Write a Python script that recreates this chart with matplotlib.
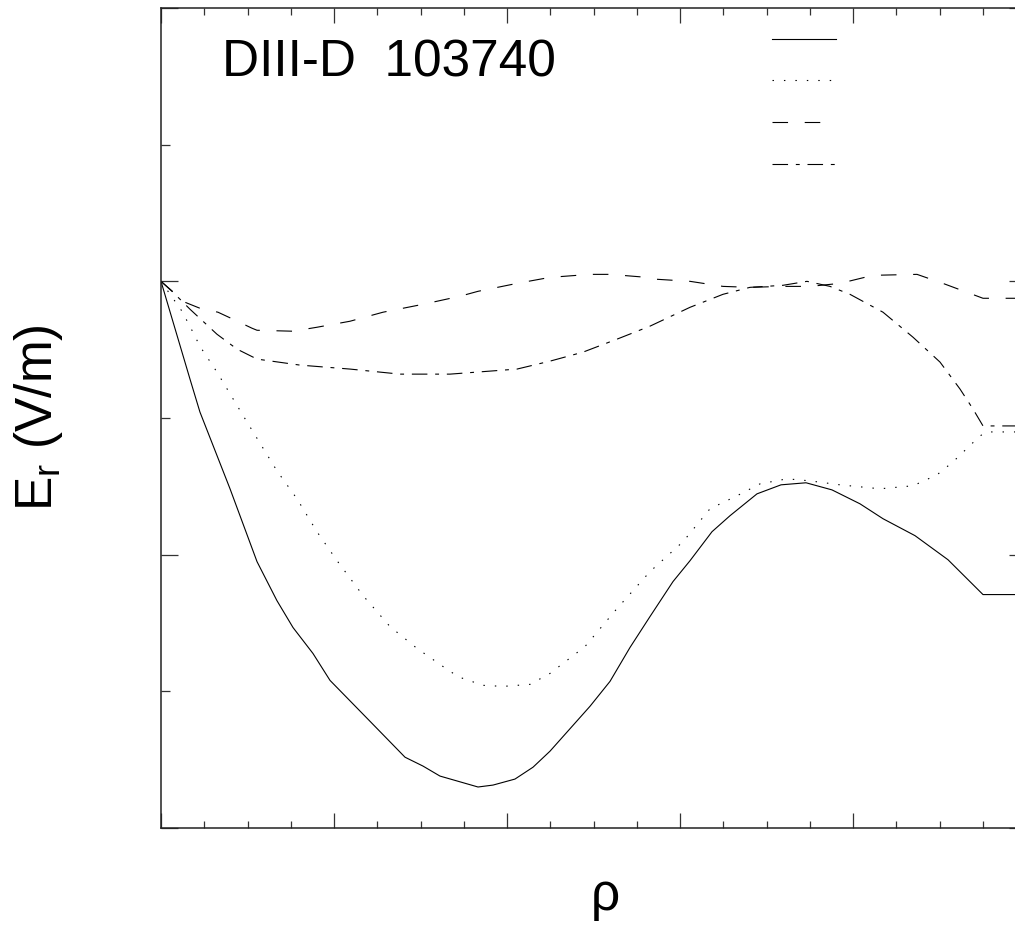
import numpy as np
import matplotlib
matplotlib.use('Agg')
import matplotlib.pyplot as plt
from matplotlib.ticker import MultipleLocator

plt.rcParams['font.family'] = ['Liberation Sans', 'DejaVu Sans']
plt.rcParams['mathtext.default'] = 'regular'

# Er profiles, DIII-D shot 103740
rho_a = [0, 0.0335, 0.045, 0.0798, 0.111, 0.134, 0.1526, 0.1757, 0.1954, 0.2416,
         0.2821, 0.3029, 0.3225, 0.3665, 0.3838, 0.4092, 0.4301, 0.4497, 0.496, 0.5191,
         0.5422, 0.5653, 0.5919, 0.6116, 0.637, 0.6578, 0.689, 0.7168, 0.7457, 0.7757,
         0.8081, 0.8347, 0.8717, 0.9098, 0.9503, 1.0]
er_a = [0, -7.15, -9.56, -15.18, -20.51, -23.36, -25.33, -27.23, -29.2, -32.19,
        -34.82, -35.47, -36.2, -37.0, -36.86, -36.42, -35.55, -34.38, -31.09, -29.27,
        -26.79, -24.53, -21.97, -20.44, -18.32, -17.15, -15.55, -14.89, -14.74, -15.26,
        -16.28, -17.37, -18.61, -20.37, -22.92, -22.92]

rho_b = [0, 0.0162, 0.0243, 0.037, 0.045, 0.0647, 0.0855, 0.0994, 0.1341, 0.1572,
         0.1803, 0.2035, 0.2335, 0.2647, 0.296, 0.3341, 0.3457, 0.3723, 0.3954, 0.4266,
         0.4497, 0.4902, 0.5272, 0.5653, 0.6035, 0.6347, 0.6659, 0.6925, 0.7237, 0.7503,
         0.785, 0.8312, 0.8694, 0.8971, 0.9156, 0.9468, 0.9549, 1.0]
er_b = [0, -1.46, -2.19, -3.73, -4.75, -6.64, -8.83, -10.29, -13.87, -15.91,
        -18.32, -20.44, -22.99, -25.26, -26.86, -28.54, -28.98, -29.56, -29.64, -29.49,
        -28.69, -26.72, -23.94, -21.24, -19.05, -16.64, -15.69, -14.82, -14.45, -14.6,
        -14.89, -15.18, -14.96, -14.16, -13.21, -11.31, -11.02, -11.02]

rho_c = [0, 0.0277, 0.045, 0.0659, 0.0832, 0.1052, 0.111, 0.1526, 0.1803, 0.2185,
         0.2566, 0.3029, 0.3457, 0.3665, 0.4116, 0.4497, 0.496, 0.5191, 0.5618, 0.5734,
         0.6116, 0.6497, 0.6809, 0.7191, 0.7503, 0.785, 0.8231, 0.874, 0.904, 0.9503, 1.0]
er_c = [0, -1.53, -1.97, -2.26, -2.77, -3.43, -3.58, -3.65, -3.36, -2.92,
        -2.26, -1.68, -1.09, -0.73, -0.15, 0.29, 0.51, 0.51, 0.29, 0.15,
        0, -0.37, -0.44, -0.37, -0.37, -0.15, 0.44, 0.51, -0.15, -1.24, -1.24]

rho_d = [0, 0.0139, 0.0335, 0.0647, 0.0879, 0.111, 0.1607, 0.2185, 0.2763, 0.3341,
         0.4116, 0.4497, 0.4879, 0.5272, 0.5653, 0.6116, 0.6497, 0.6809, 0.7191, 0.7468,
         0.7734, 0.7965, 0.8347, 0.8694, 0.9006, 0.9237, 0.9387, 0.9503, 1.0]
er_d = [0, -0.8, -2.04, -3.87, -4.96, -5.69, -6.13, -6.42, -6.79, -6.79,
        -6.42, -5.84, -5.18, -4.23, -3.28, -1.9, -0.95, -0.44, -0.29, 0,
        -0.37, -0.95, -2.26, -4.09, -5.91, -7.88, -9.34, -10.58, -10.58]

W, H = 1015, 925
fig = plt.figure(figsize=(W / 100, H / 100), dpi=100)
ax = fig.add_axes([161 / W, 1 - 828 / H, 865 / W, 820 / H])

lw = 0.8
l1, = ax.plot(rho_a, er_a, color='black', lw=lw, linestyle='-')
l2, = ax.plot(rho_b, er_b, color='black', lw=lw, linestyle=(0, (1.3, 9)))
l3, = ax.plot(rho_c, er_c, color='black', lw=lw, linestyle=(0, (14, 15)))
l4, = ax.plot(rho_d, er_d, color='black', lw=lw, linestyle=(0, (14, 7, 3.5, 7)))

ax.set_xlim(0, 1.0)
ax.set_ylim(-40, 20)
ax.xaxis.set_major_locator(MultipleLocator(0.2))
ax.xaxis.set_minor_locator(MultipleLocator(0.05))
ax.yaxis.set_major_locator(MultipleLocator(20))
ax.yaxis.set_minor_locator(MultipleLocator(10))
ax.tick_params(axis='both', which='both', direction='in', top=True, right=True,
               labelbottom=False, labelleft=False, width=0.9, color='#333333')
ax.tick_params(axis='x', which='major', length=10.8)
ax.tick_params(axis='x', which='minor', length=4.7)
ax.tick_params(axis='y', which='major', length=12.2)
ax.tick_params(axis='y', which='minor', length=6.5)
for s in ax.spines.values():
    s.set_linewidth(1.1)
    s.set_color('#222222')

ax.text(0.0705, 0.917, 'DIII-D  103740', transform=ax.transAxes,
        fontsize=37, va='baseline', ha='left')

ax.set_ylabel('E$_r$ (V/m)', fontsize=37)
ax.yaxis.set_label_coords(-0.111, 0.5)
ax.set_xlabel('ρ', fontsize=37)
ax.xaxis.set_label_coords(0.514, -0.054)

fs = 10
ax.legend([l1, l2, l3, l4], ['', '', '', ''], frameon=False, fontsize=fs,
          handlelength=4.6, handleheight=1.0, handletextpad=0, labelspacing=2.0,
          borderpad=0, borderaxespad=0, loc='upper left',
          bbox_to_anchor=(772 / W, 1 - 33 / H), bbox_transform=fig.transFigure)

fig.savefig('out.png', dpi=100)
